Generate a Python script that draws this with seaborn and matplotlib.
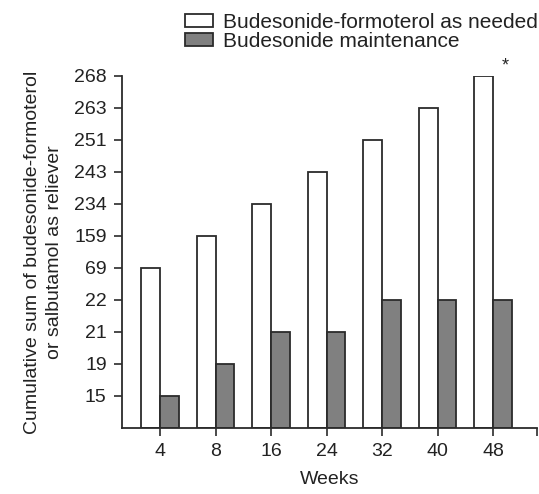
import matplotlib
matplotlib.use('Agg')
import matplotlib.pyplot as plt
import seaborn as sns
import pandas as pd

semanas = ['4', '8', '16', '24', '32', '40', '48']
grupos = ['Budesonide-formoterol as needed', 'Budesonide maintenance']
valores_as_needed = [69, 159, 234, 243, 251, 263, 268]
valores_mantenimiento = [15, 19, 21, 21, 22, 22, 22]
etiquetas_y = [15, 19, 21, 22, 69, 159, 234, 243, 251, 263, 268]

# el eje y es ordinal: cada valor se dibuja en la posicion de su etiqueta
filas = []
for i, s in enumerate(semanas):
    filas.append({'semana': s, 'grupo': grupos[0], 'valor': valores_as_needed[i]})
    filas.append({'semana': s, 'grupo': grupos[1], 'valor': valores_mantenimiento[i]})
datos = pd.DataFrame(filas)
datos['pos'] = datos['valor'].apply(lambda v: etiquetas_y.index(v) + 1)

sns.set_style('white')
plt.rcParams['font.family'] = ['Liberation Sans', 'DejaVu Sans']

fig = plt.figure(figsize=(5.39, 4.94), dpi=100)
ax = fig.add_axes([0.2263, 0.1336, 0.77, 0.7126])

sns.barplot(data=datos, x='semana', y='pos', hue='grupo', order=semanas, hue_order=grupos,
            palette=['white', '#808080'], edgecolor='#2b2b2b', linewidth=1.3,
            width=0.68, saturation=1, ax=ax)

ax.set_xlim(-0.685, 6.79)
ax.set_ylim(0, 11)
ax.set_yticks(range(1, len(etiquetas_y) + 1))
ax.set_yticklabels([str(v) for v in etiquetas_y])
ax.set_xticks(list(range(len(semanas))) + [6.79])
ax.set_xticklabels(semanas + [''])

for lado in ['top', 'right']:
    ax.spines[lado].set_visible(False)
for lado in ['left', 'bottom']:
    ax.spines[lado].set_color('#2b2b2b')
    ax.spines[lado].set_linewidth(1.3)
ax.tick_params(axis='both', direction='out', length=6, width=1.2, color='#2b2b2b',
               labelsize=14, labelcolor='#222222', left=True, bottom=True, pad=5)

ax.set_xlabel('Weeks', fontsize=14, color='#222222', labelpad=8)
ax.set_ylabel('Cumulative sum of budesonide-formoterol\nor salbutamol as reliever',
              fontsize=14, color='#222222', labelpad=8, linespacing=1.35)

ax.text(6.22, 11.3, '*', fontsize=13, ha='center', va='center', clip_on=False)

handles, labels = ax.get_legend_handles_labels()
ax.legend(handles, labels, loc='upper left', bbox_to_anchor=(0.312, 1.008),
          bbox_transform=fig.transFigure, frameon=False, fontsize=15,
          handlelength=1.35, handleheight=0.6, handletextpad=0.5,
          labelspacing=0.0, borderpad=0.3, labelcolor='#222222')

fig.savefig('out.png', dpi=100)
